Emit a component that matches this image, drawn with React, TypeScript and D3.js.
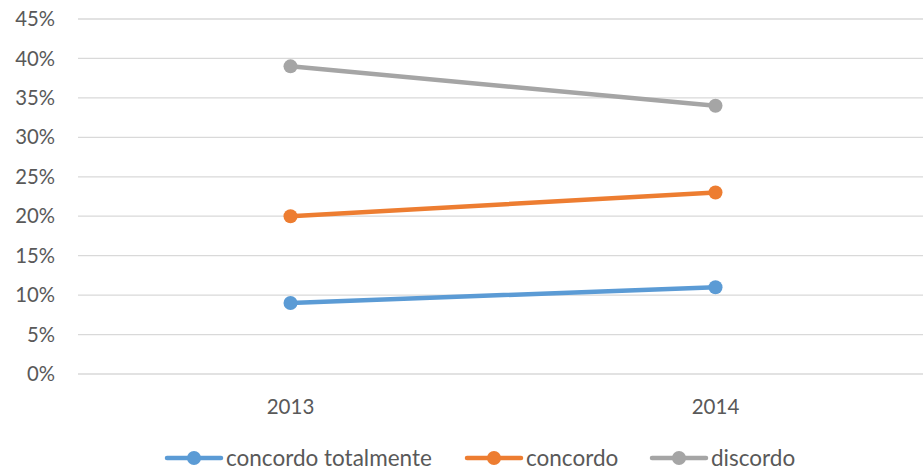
import React from "react";
import * as d3 from "d3";

const categories = ["2013", "2014"];
const seriesNames = ["concordo totalmente", "concordo", "discordo"];
const concordoTotalmente = [9, 11];
const concordo = [20, 23];
const discordo = [39, 34];
const yTicks = [0, 5, 10, 15, 20, 25, 30, 35, 40, 45];
const colors = ["#5b9bd5", "#ed7d31", "#a5a5a5"];

export default function App() {
  const W = 923, H = 474;
  const x = d3.scalePoint<string>().domain(categories).range([78, 928]).padding(0.5);
  const y = d3.scaleLinear().domain([0, 45]).range([374, 19]);
  const series = [concordoTotalmente, concordo, discordo];
  const line = d3.line<number>().x((_, i) => x(categories[i]) as number).y((v) => y(v));
  const font = "Lato, 'Open Sans', sans-serif";
  const legendX = [167, 467, 652];
  return (
    <svg width={W} height={H} style={{ position: "absolute", left: 0, top: 0, background: "#fff" }} fontFamily={font}>
      {yTicks.map((t) => (
        <g key={t}>
          <line x1={78} x2={W} y1={y(t)} y2={y(t)} stroke="#d9d9d9" strokeWidth={1.3} />
          <text x={55} y={y(t)} dy="0.35em" textAnchor="end" fontSize={20.3} fill="#595959">{t}%</text>
        </g>
      ))}
      {categories.map((c) => (
        <text key={c} x={x(c)} y={407} dy="0.35em" textAnchor="middle" fontSize={20.5} fill="#595959">{c}</text>
      ))}
      {series.map((s, i) => (
        <g key={i}>
          <path d={line(s) || ""} fill="none" stroke={colors[i]} strokeWidth={4.5} strokeLinecap="round" />
          {s.map((v, j) => (
            <circle key={j} cx={x(categories[j])} cy={y(v)} r={7} fill={colors[i]} />
          ))}
        </g>
      ))}
      {seriesNames.map((n, i) => (
        <g key={n}>
          <line x1={legendX[i]} x2={legendX[i] + 54} y1={458} y2={458} stroke={colors[i]} strokeWidth={4.5} strokeLinecap="round" />
          <circle cx={legendX[i] + 27} cy={458} r={7} fill={colors[i]} />
          <text x={legendX[i] + 59} y={458} dy="0.35em" fontSize={22.5} fill="#595959">{n}</text>
        </g>
      ))}
    </svg>
  );
}
